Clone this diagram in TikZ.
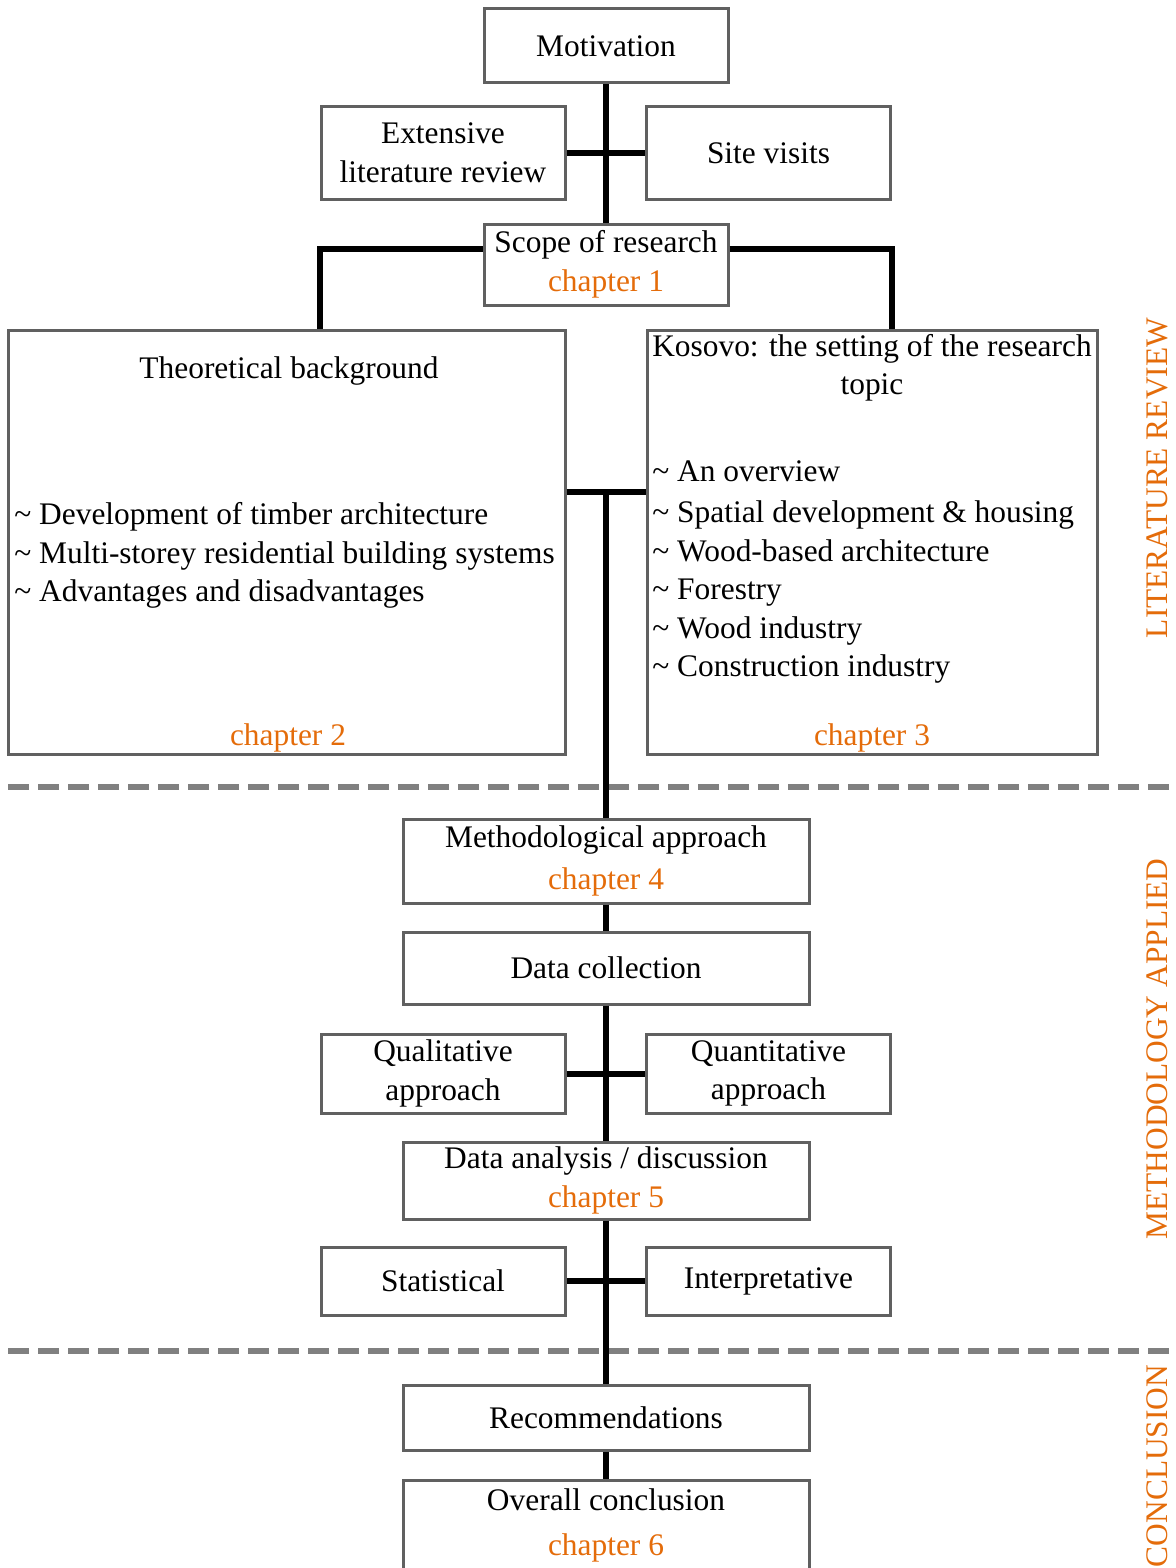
\documentclass[tikz,border=0pt]{standalone}
\usepackage{fontspec}
\setmainfont{Liberation Serif}
\definecolor{chapcol}{HTML}{E46C0A}
\definecolor{boxgray}{HTML}{606060}
\definecolor{sepgray}{HTML}{808080}
\tikzset{
  box/.style={draw=boxgray, line width=1.5pt, align=center, inner sep=0pt},
  narrow/.style={box, minimum width=122pt},
  wide/.style={box, minimum width=203pt},
  conn/.style={line width=3pt},
  sepline/.style={draw=sepgray, line width=3pt, dash pattern=on 10.5pt off 4.5pt},
  side/.style={text=chapcol, rotate=90, inner sep=0pt},
}
\newcommand{\chap}[1]{\textcolor{chapcol}{chapter #1}}
\begin{document}
\begin{tikzpicture}[x=0.5pt, y=-0.5pt, font=\fontsize{15.7}{19.25}\selectfont]
            \useasboundingbox (0,0) rectangle (1176,1568);
            % section separators
            \draw[sepline] (8,787) -- (1176,787);
            \draw[sepline] (8,1351) -- (1176,1351);

            \node[narrow, minimum height=37pt] (motiv) at (606,46){Motivation};
            \node[narrow, minimum height=46pt] (review) at (443,153){Extensive\\literature review};
            \node[narrow, minimum height=46pt] (site) at (768.5,153){Site visits};
            \node[narrow, minimum height=40.5pt] (scope) at (606,264.5){Scope of research\\\chap{1}};

            \node[box, minimum width=278.5pt, minimum height=212pt] (theory) at (286.5,542){};
            \node (theorytitle) at (289,371){Theoretical background};
            \node[anchor=north west, align=left, inner sep=0pt] (theorylist) at (14,502){%
              \textasciitilde{} Development of timber architecture\\
              \textasciitilde{} Multi-storey residential building systems\\
              \textasciitilde{} Advantages and disadvantages};
            \node (chap2) at (288,738){\chap{2}};

            \node[box, minimum width=225pt, minimum height=212pt] (kosovo) at (872,542){};
            \node[align=center, inner sep=0pt] (kosovotitle) at (872,368){Kosovo: the setting of the research\\topic};
            \node[anchor=north west, align=left, inner sep=0pt] (kosovolist) at (652,460){%
              \textasciitilde{} An overview\\[1.5pt]
              \textasciitilde{} Spatial development \& housing\\
              \textasciitilde{} Wood-based architecture\\
              \textasciitilde{} Forestry\\
              \textasciitilde{} Wood industry\\
              \textasciitilde{} Construction industry};
            \node (chap3) at (872,738){\chap{3}};

            \node[wide, minimum height=42pt] (method) at (606,861){Methodological approach\\[1.75pt]\chap{4}};
            \node[wide, minimum height=36pt] (collect) at (606,968){Data collection};
            \node[narrow, minimum height=39.5pt] (qual) at (443,1073.5){Qualitative\\approach};
            \node[narrow, minimum height=39.5pt] (quant) at (768.5,1073.5){Quantitative\\approach};
            \node[wide, minimum height=38.5pt] (analysis) at (606,1180.5){Data analysis / discussion\\\chap{5}};
            \node[narrow, minimum height=34pt] (stat) at (443,1281){Statistical};
            \node[narrow, minimum height=34pt] (interp) at (768.5,1281){Interpretative};

            \node[wide, minimum height=32.5pt] (recom) at (606,1417.5){Recommendations};
            \node[wide, minimum height=60pt] (overall) at (606,1540){};
            \node (overalltitle) at (606,1500){Overall conclusion};
            \node (chap6) at (606,1548){\chap{6}};

            \node[side] (litrev) at (1157,478){LITERATURE REVIEW};
            \node[side] (methapp) at (1157,1049){METHODOLOGY APPLIED};
            \node[side] (concl) at (1157,1466){CONCLUSION};

            \coordinate (hub) at (606,492);
            \draw[conn] (motiv) -- (scope);
            \draw[conn] (review) -- (site);
            \draw[conn] ([yshift=8pt]scope.west) -| (theory.north -| review.west);
            \draw[conn] ([yshift=8pt]scope.east) -| (kosovo.north -| site.east);
            \draw[conn] (hub -| theory.east) -- (hub -| kosovo.west);
            \draw[conn] (hub) -- (method);
            \draw[conn] (method) -- (collect);
            \draw[conn] (collect) -- (analysis);
            \draw[conn] (qual) -- (quant);
            \draw[conn] (analysis) -- (recom);
            \draw[conn] (stat) -- (interp);
            \draw[conn] (recom) -- (overall);
        \end{tikzpicture}
\end{document}
